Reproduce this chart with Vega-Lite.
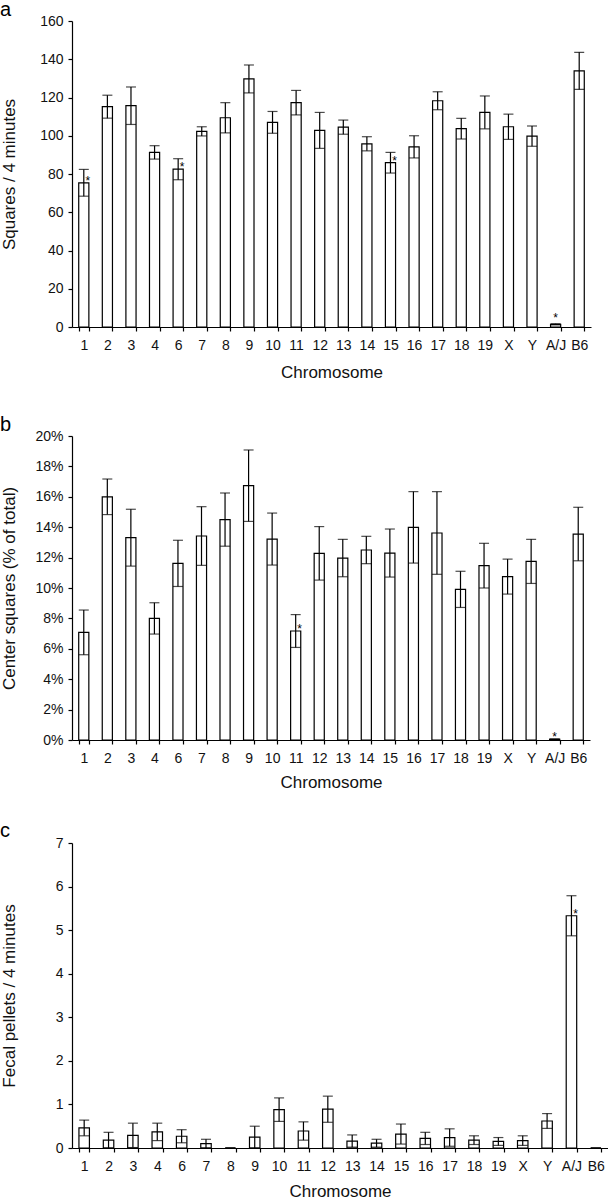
{
  "$schema": "https://vega.github.io/schema/vega-lite/v6.json",
  "background": "white",
  "padding": {"left": 0, "top": 0, "right": 0, "bottom": 0},
  "spacing": 31,
  "config": {
    "view": {"stroke": null},
    "font": "Liberation Sans",
    "axis": {"domainColor": "black", "domainWidth": 1.2, "tickColor": "black", "tickWidth": 1.2, "tickSize": 4, "labelColor": "#111", "labelFontSize": 14, "labelFont": "Liberation Sans", "titleFont": "Liberation Sans", "titleFontSize": 17, "titleFontWeight": "normal", "titleColor": "#111", "grid": false},
    "axisX": {"labelPadding": 7, "labelAngle": 0, "tickBand": "extent", "titleBaseline": "top", "titleY": 36},
    "axisY": {"labelPadding": 5, "titleX": -63, "titleBaseline": "middle"},
    "title": {"fontSize": 20, "fontWeight": "normal", "font": "Liberation Sans", "anchor": "start", "frame": "bounds", "color": "black", "offset": -6}
  },
  "datasets": {
    "a": [
      {"chr": "1", "mean": 75.4, "se": 7.0, "sig": "*"},
      {"chr": "2", "mean": 115.2, "se": 6.0, "sig": ""},
      {"chr": "3", "mean": 115.7, "se": 9.8, "sig": ""},
      {"chr": "4", "mean": 91.3, "se": 3.5, "sig": ""},
      {"chr": "6", "mean": 82.5, "se": 5.5, "sig": "*"},
      {"chr": "7", "mean": 102.3, "se": 2.4, "sig": ""},
      {"chr": "8", "mean": 109.4, "se": 7.9, "sig": ""},
      {"chr": "9", "mean": 129.7, "se": 7.3, "sig": ""},
      {"chr": "10", "mean": 107.0, "se": 5.7, "sig": ""},
      {"chr": "11", "mean": 117.3, "se": 6.4, "sig": ""},
      {"chr": "12", "mean": 102.8, "se": 9.4, "sig": ""},
      {"chr": "13", "mean": 104.5, "se": 3.7, "sig": ""},
      {"chr": "14", "mean": 95.8, "se": 3.7, "sig": ""},
      {"chr": "15", "mean": 85.9, "se": 5.4, "sig": "*"},
      {"chr": "16", "mean": 94.2, "se": 5.8, "sig": ""},
      {"chr": "17", "mean": 118.3, "se": 4.7, "sig": ""},
      {"chr": "18", "mean": 103.7, "se": 5.4, "sig": ""},
      {"chr": "19", "mean": 112.2, "se": 8.6, "sig": ""},
      {"chr": "X", "mean": 104.7, "se": 6.6, "sig": ""},
      {"chr": "Y", "mean": 99.8, "se": 5.3, "sig": ""},
      {"chr": "A/J", "mean": 1.4, "se": 0.3, "sig": "*"},
      {"chr": "B6", "mean": 133.9, "se": 9.7, "sig": ""}
    ],
    "b": [
      {"chr": "1", "mean": 7.08, "se": 1.47, "sig": ""},
      {"chr": "2", "mean": 16.0, "se": 1.17, "sig": ""},
      {"chr": "3", "mean": 13.31, "se": 1.87, "sig": ""},
      {"chr": "4", "mean": 8.0, "se": 1.03, "sig": ""},
      {"chr": "6", "mean": 11.62, "se": 1.52, "sig": ""},
      {"chr": "7", "mean": 13.42, "se": 1.93, "sig": ""},
      {"chr": "8", "mean": 14.5, "se": 1.75, "sig": ""},
      {"chr": "9", "mean": 16.73, "se": 2.35, "sig": ""},
      {"chr": "10", "mean": 13.22, "se": 1.71, "sig": ""},
      {"chr": "11", "mean": 7.17, "se": 1.08, "sig": "*"},
      {"chr": "12", "mean": 12.28, "se": 1.76, "sig": ""},
      {"chr": "13", "mean": 11.97, "se": 1.23, "sig": ""},
      {"chr": "14", "mean": 12.5, "se": 0.9, "sig": ""},
      {"chr": "15", "mean": 12.3, "se": 1.58, "sig": ""},
      {"chr": "16", "mean": 13.99, "se": 2.35, "sig": ""},
      {"chr": "17", "mean": 13.62, "se": 2.72, "sig": ""},
      {"chr": "18", "mean": 9.91, "se": 1.19, "sig": ""},
      {"chr": "19", "mean": 11.47, "se": 1.47, "sig": ""},
      {"chr": "X", "mean": 10.75, "se": 1.15, "sig": ""},
      {"chr": "Y", "mean": 11.75, "se": 1.45, "sig": ""},
      {"chr": "A/J", "mean": 0.05, "se": 0.02, "sig": "*"},
      {"chr": "B6", "mean": 13.55, "se": 1.76, "sig": ""}
    ],
    "c": [
      {"chr": "1", "mean": 0.46, "se": 0.18, "sig": ""},
      {"chr": "2", "mean": 0.18, "se": 0.18, "sig": ""},
      {"chr": "3", "mean": 0.29, "se": 0.28, "sig": ""},
      {"chr": "4", "mean": 0.37, "se": 0.2, "sig": ""},
      {"chr": "6", "mean": 0.27, "se": 0.15, "sig": ""},
      {"chr": "7", "mean": 0.1, "se": 0.1, "sig": ""},
      {"chr": "8", "mean": 0, "se": 0, "sig": ""},
      {"chr": "9", "mean": 0.25, "se": 0.25, "sig": ""},
      {"chr": "10", "mean": 0.88, "se": 0.27, "sig": ""},
      {"chr": "11", "mean": 0.39, "se": 0.21, "sig": ""},
      {"chr": "12", "mean": 0.89, "se": 0.3, "sig": ""},
      {"chr": "13", "mean": 0.16, "se": 0.14, "sig": ""},
      {"chr": "14", "mean": 0.11, "se": 0.09, "sig": ""},
      {"chr": "15", "mean": 0.32, "se": 0.23, "sig": ""},
      {"chr": "16", "mean": 0.22, "se": 0.14, "sig": ""},
      {"chr": "17", "mean": 0.24, "se": 0.2, "sig": ""},
      {"chr": "18", "mean": 0.18, "se": 0.1, "sig": ""},
      {"chr": "19", "mean": 0.15, "se": 0.09, "sig": ""},
      {"chr": "X", "mean": 0.17, "se": 0.11, "sig": ""},
      {"chr": "Y", "mean": 0.62, "se": 0.17, "sig": ""},
      {"chr": "A/J", "mean": 5.33, "se": 0.46, "sig": "*"},
      {"chr": "B6", "mean": 0, "se": 0, "sig": ""}
    ]
  },
  "vconcat": [
    {
      "spacing": 35,
      "vconcat": [
        {
          "title": {"text": "a"},
          "width": 519,
          "height": 306,
          "data": {"name": "a"},
          "encoding": {
            "x": {"field": "chr", "type": "nominal", "sort": null, "scale": {"paddingInner": 0.57, "paddingOuter": 0.285}, "axis": {"title": "Chromosome", "titleY": 37}},
            "y": {"field": "mean", "type": "quantitative", "scale": {"domain": [0, 160], "nice": false}, "axis": {"title": "Squares / 4 minutes", "values": [0, 20, 40, 60, 80, 100, 120, 140, 160]}}
          },
          "layer": [
            {"mark": {"type": "bar", "fill": "white", "stroke": "black", "strokeWidth": 1.2}},
            {"mark": {"type": "errorbar", "ticks": true, "size": 10, "thickness": 1.2, "color": "black"}, "encoding": {"yError": {"field": "se"}}},
            {"transform": [{"filter": "datum.chr != 'A/J'"}], "mark": {"type": "text", "dx": 4, "dy": 2, "baseline": "alphabetic", "fontSize": 12, "color": "black"}, "encoding": {"text": {"field": "sig"}}},
            {"transform": [{"filter": "datum.chr == 'A/J'"}], "mark": {"type": "text", "dx": 0, "dy": -2, "baseline": "alphabetic", "fontSize": 12, "color": "black"}, "encoding": {"text": {"field": "sig"}}}
          ]
        },
        {
          "title": {"text": "b"},
          "width": 518,
          "height": 304,
          "data": {"name": "b"},
          "encoding": {
            "x": {"field": "chr", "type": "nominal", "sort": null, "scale": {"paddingInner": 0.57, "paddingOuter": 0.285}, "axis": {"title": "Chromosome", "titleY": 34}},
            "y": {"field": "mean", "type": "quantitative", "scale": {"domain": [0, 20], "nice": false}, "axis": {"title": "Center squares (% of total)", "values": [0, 2, 4, 6, 8, 10, 12, 14, 16, 18, 20], "labelExpr": "datum.value + '%'"}}
          },
          "layer": [
            {"mark": {"type": "bar", "fill": "white", "stroke": "black", "strokeWidth": 1.2}},
            {"mark": {"type": "errorbar", "ticks": true, "size": 10, "thickness": 1.2, "color": "black"}, "encoding": {"yError": {"field": "se"}}},
            {"transform": [{"filter": "datum.chr != 'A/J'"}], "mark": {"type": "text", "dx": 4, "dy": 2, "baseline": "alphabetic", "fontSize": 12, "color": "black"}, "encoding": {"text": {"field": "sig"}}},
            {"transform": [{"filter": "datum.chr == 'A/J'"}], "mark": {"type": "text", "dx": 0, "dy": 2, "baseline": "alphabetic", "fontSize": 12, "color": "black"}, "encoding": {"text": {"field": "sig"}}}
          ]
        }
      ]
    },
    {
      "title": {"text": "c", "offset": -5},
      "width": 536,
      "height": 305,
      "data": {"name": "c"},
      "encoding": {
        "x": {"field": "chr", "type": "nominal", "sort": null, "scale": {"paddingInner": 0.57, "paddingOuter": 0.285}, "axis": {"title": "Chromosome", "titleY": 35}},
        "y": {"field": "mean", "type": "quantitative", "scale": {"domain": [0, 7], "nice": false}, "axis": {"title": "Fecal pellets / 4 minutes", "values": [0, 1, 2, 3, 4, 5, 6, 7]}}
      },
      "layer": [
        {"mark": {"type": "bar", "fill": "white", "stroke": "black", "strokeWidth": 1.2}},
        {"mark": {"type": "errorbar", "ticks": true, "size": 10, "thickness": 1.2, "color": "black"}, "encoding": {"yError": {"field": "se"}}},
        {"mark": {"type": "text", "dx": 4, "dy": 2, "baseline": "alphabetic", "fontSize": 12, "color": "black"}, "encoding": {"text": {"field": "sig"}}}
      ]
    }
  ]
}
